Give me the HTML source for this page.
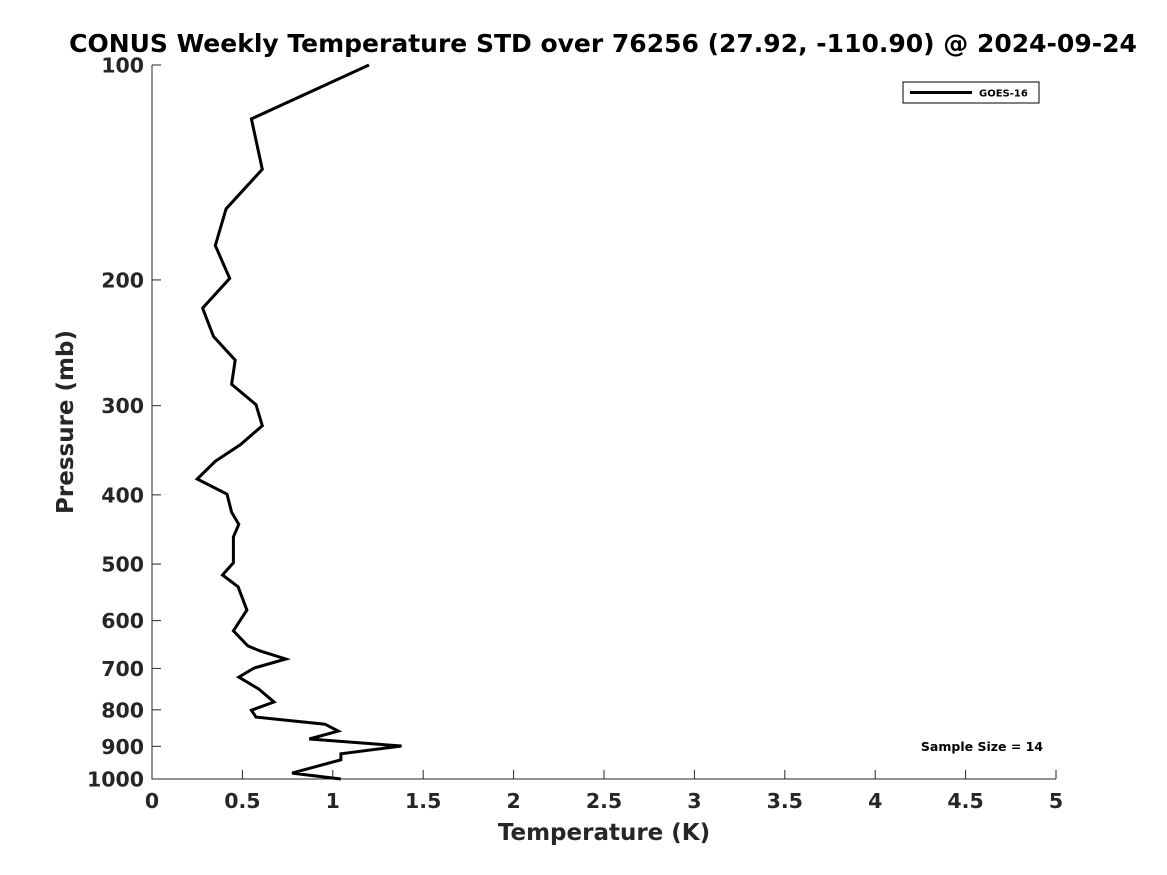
<!DOCTYPE html>
<html><head><meta charset="utf-8"><style>
body{margin:0;background:#fff;}
svg{display:block;font-family:"DejaVu Sans","Liberation Sans",sans-serif;font-weight:bold;}
</style></head><body>
<svg id="chart" width="1167" height="875" viewBox="0 0 1167 875">
<text x="603" y="52" text-anchor="middle" font-size="25" fill="#000">CONUS Weekly Temperature STD over 76256 (27.92, -110.90) @ 2024-09-24</text>
<g id="axes"></g>
<path id="series" fill="none" stroke="#000" stroke-width="3" stroke-linejoin="miter"/>
<text x="604" y="840" text-anchor="middle" font-size="23" fill="#262626">Temperature (K)</text>
<text transform="translate(73,422) rotate(-90)" text-anchor="middle" font-size="23" fill="#262626">Pressure (mb)</text>
<g>
<rect x="903" y="82" width="136" height="21" fill="#fff" stroke="#000" stroke-width="1"/>
<line x1="910" y1="92.5" x2="972" y2="92.5" stroke="#000" stroke-width="3"/>
<text x="979" y="96.5" font-size="10" fill="#000">GOES-16</text>
</g>
<text x="982" y="751" text-anchor="middle" font-size="12.5" fill="#000">Sample Size = 14</text>
</svg>
<script>
const temps=[1.20,0.55,0.61,0.41,0.35,0.43,0.28,0.34,0.46,0.44,0.575,0.61,0.49,0.35,0.25,0.415,0.44,0.48,0.45,0.45,0.39,0.476,0.525,0.45,0.53,0.60,0.74,0.565,0.48,0.59,0.675,0.55,0.575,0.957,1.03,0.87,1.38,1.045,1.045,0.775,1.045];
const pressures=[100,119,140,159,179,199,219,240,259,280,299,320,340,359,380,399,423,440,458,498,518,538,580,620,651,662,679,699,720,748,780,801,819,838,857,879,899,922,940,981,1000];
const xTicks=[0,0.5,1,1.5,2,2.5,3,3.5,4,4.5,5];
const xTickLabels=["0","0.5","1","1.5","2","2.5","3","3.5","4","4.5","5"];
const yTicks=[100,200,300,400,500,600,700,800,900,1000];
const yTickLabels=["100","200","300","400","500","600","700","800","900","1000"];
const X0=152,X1=1056,Y0=65,Y1=779;
function xs(v){return X0+(v-0)/(5-0)*(X1-X0);}
function ys(p){return Y0+(Math.log10(p)-2)/(3-2)*(Y1-Y0);}
const NS='http://www.w3.org/2000/svg';
const g=document.getElementById('axes');
function mk(t,a){const e=document.createElementNS(NS,t);for(const k in a)e.setAttribute(k,a[k]);return e;}
const ax=mk('path',{d:`M${X0},${Y0}V${Y1}H${X1}`,fill:'none',stroke:'#262626','stroke-width':1});


g.appendChild(ax);
xTicks.forEach((v,i)=>{
 const x=xs(v);
 const t=mk('line',{x1:x,y1:Y1,x2:x,y2:Y1-9,stroke:'#262626'});
 
 
 g.appendChild(t);
 const l=mk('text',{x:x,y:Y1+29,'text-anchor':'middle','font-size':20.5,fill:'#262626'});
 l.textContent=xTickLabels[i];
 
 
 g.appendChild(l);
});
yTicks.forEach((v,i)=>{
 const y=ys(v);
 const t=mk('line',{x1:X0,y1:y,x2:X0+9,y2:y,stroke:'#262626'});
 
 
 g.appendChild(t);
 const l=mk('text',{x:X0-8,y:y+7.5,'text-anchor':'end','font-size':20.5,fill:'#262626'});
 l.textContent=yTickLabels[i];
 
 
 g.appendChild(l);
});
document.getElementById('series').setAttribute('d',temps.map((t,i)=>(i?'L':'M')+xs(t).toFixed(1)+','+ys(pressures[i]).toFixed(1)).join(''));
</script>
</body></html>
